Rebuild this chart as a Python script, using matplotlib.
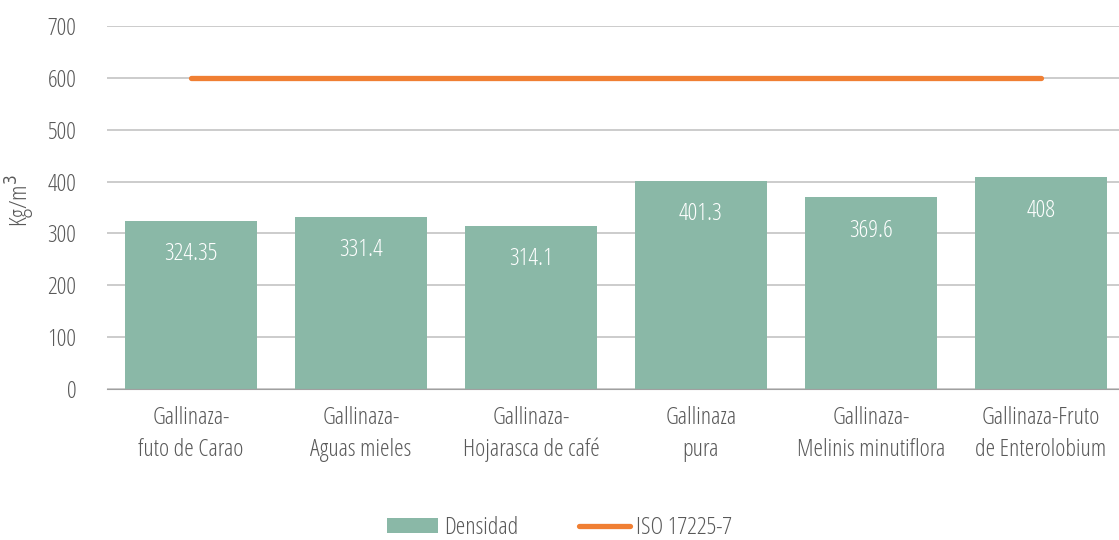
import numpy as np
import matplotlib
matplotlib.use("Agg")
from matplotlib import pyplot as plt

#Data
categories = ["Gallinaza-\nfuto de Carao", "Gallinaza-\nAguas mieles", "Gallinaza-\nHojarasca de café",
              "Gallinaza\npura", "Gallinaza-\nMelinis minutiflora", "Gallinaza-Fruto\nde Enterolobium"]
densidad = [324.35, 331.4, 314.1, 401.3, 369.6, 408]
labels = ["324.35", "331.4", "314.1", "401.3", "369.6", "408"]
iso = [600, 600, 600, 600, 600, 600]

#Light condensed font
plt.rcParams["font.family"] = ["Open Sans", "DejaVu Sans"]
plt.rcParams["font.stretch"] = "condensed"
plt.rcParams["font.weight"] = "light"

text_col = "#595959"
bar_col = "#8ab8a7"
line_col = "#f07f33"
fs = 17.5

fig = plt.figure(figsize=(11.19, 5.4), dpi=100)
ax = fig.add_axes([107/1119, 151/540, 1012/1119, 363/540])

x = np.arange(len(categories))
bars = ax.bar(x, densidad, width=0.78, color=bar_col, zorder=2, label="Densidad")
line, = ax.plot(x, iso, color=line_col, lw=3.8, solid_capstyle="round", zorder=3, label="ISO 17225-7")

for xi, v, t in zip(x, densidad, labels):
    ax.annotate(t, (xi, v), xytext=(0, -24), textcoords="offset points",
                ha="center", va="center", color="white", fontsize=fs)

ax.set_ylim(0, 700)
ax.set_xlim(-0.494, 5.46)
ax.set_yticks(range(0, 701, 100))
ax.yaxis.grid(True, color="#c8c8c8", lw=1.3, zorder=0)
ax.set_axisbelow(True)
for s in ["top", "right", "left"]:
    ax.spines[s].set_visible(False)
ax.spines["bottom"].set_color("#a0a0a0")
ax.tick_params(axis="y", length=0, pad=22, labelsize=fs, labelcolor=text_col)
ax.tick_params(axis="x", length=0, pad=12, labelsize=fs, labelcolor=text_col)
ax.set_xticks(x)
ax.set_xticklabels(categories, linespacing=1.45)
ax.set_ylabel("Kg/m$^3$", fontsize=fs, color=text_col)
ax.yaxis.set_label_coords(-70/1012, 0.52)

fig.legend([bars, line], ["Densidad", "ISO 17225-7"], loc="lower center",
           bbox_to_anchor=(0.5, -0.04), ncol=2, frameon=False,
           fontsize=fs, labelcolor=text_col, handlelength=2.1, handleheight=0.58,
           columnspacing=2.5, handletextpad=0.25)

fig.savefig("out.png", dpi=100)
